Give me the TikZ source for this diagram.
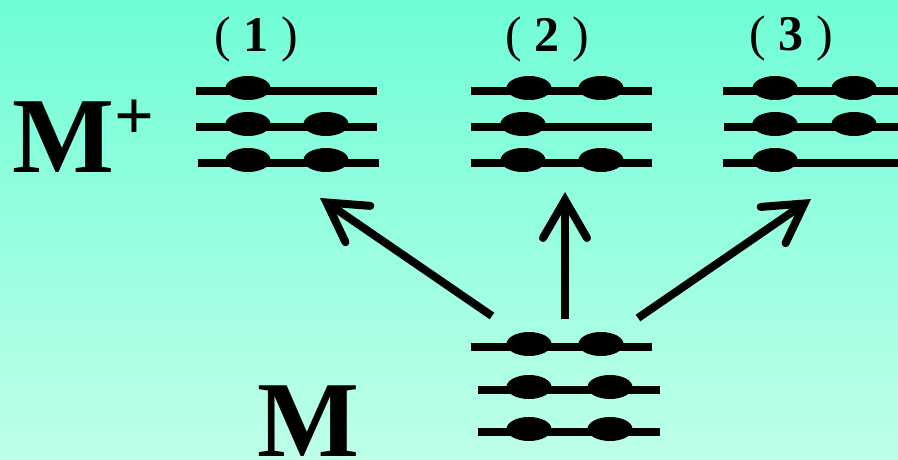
\documentclass[tikz,border=0pt]{standalone}
\usepackage{fontspec}
\setmainfont{Liberation Serif}
\usetikzlibrary{arrows.meta}
\definecolor{bgtop}{RGB}{111,253,214}
\definecolor{bgbot}{RGB}{190,255,233}
\begin{document}
\begin{tikzpicture}[x=1pt,y=-1pt,
  bar/.style={line width=8pt},
  lobe/.style={fill=black},
  conn/.style={line width=8pt,-{Straight Barb[length=38pt,width=44pt,line cap=round,line join=miter]}},
  lbl/.style={inner sep=0pt,anchor=base,font=\fontsize{50}{50}\selectfont},
  big/.style={inner sep=0pt,anchor=base west,font=\fontsize{108}{108}\selectfont\bfseries}]
\useasboundingbox (0,0) rectangle (898,460);
\shade[top color=bgtop,bottom color=bgbot] (0,0) rectangle (898,460);
% bar rows: x-start / x-end / y / lobe centres
\foreach \xa/\xb/\yy/\lobes in {
  196/377/91/{248}, 196/377/127/{248,326}, 198/379/163/{248,326},
  471/652/91/{529,601}, 471/652/127/{523}, 471/652/163/{523,601},
  723/898/91/{775,854}, 724/898/127/{775,854}, 723/898/163/{775},
  471/652/347/{529,601}, 478/660/390/{529,610}, 478/660/432/{529,610}}{
  \draw[bar] (\xa,\yy) -- (\xb,\yy);
  \foreach \lx in \lobes {
    \fill[lobe] (\lx,\yy-3) ellipse [x radius=22.5pt,y radius=12pt];
  }
}
\node[big] (mplus) at (12,172) {M\raisebox{33pt}{\fontsize{70}{70}\selectfont +}};
\node[big] (m) at (257,456) {M};
\node[lbl] (l1) at (256,52) {( \textbf{1} )};
\node[lbl] (l2) at (547,52) {( \textbf{2} )};
\node[lbl] (l3) at (791,51) {( \textbf{3} )};
\coordinate (s1) at (492,316);
\coordinate (t1) at (320,198);
\coordinate (s2) at (565,319);
\coordinate (t2) at (565,192);
\coordinate (s3) at (638,318);
\coordinate (t3) at (811,199);
\draw[conn] (s1) -- (t1);
\draw[conn] (s2) -- (t2);
\draw[conn] (s3) -- (t3);
\end{tikzpicture}
\end{document}
